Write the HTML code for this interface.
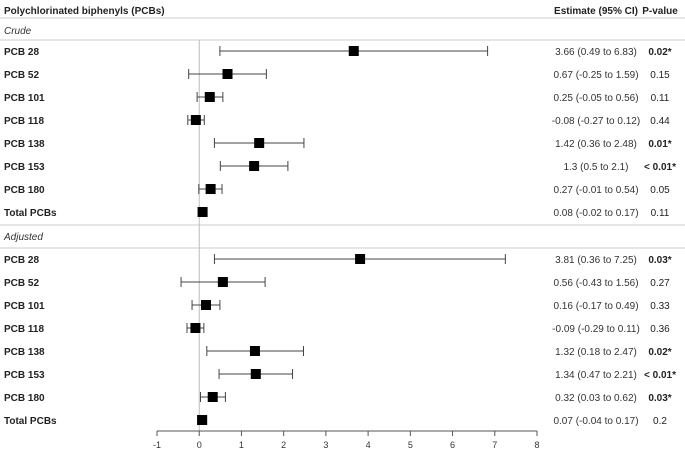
<!DOCTYPE html>
<html><head><meta charset="utf-8"><style>
html,body{margin:0;padding:0;background:#fff;}
svg{display:block;font-family:"Liberation Sans",Arial,sans-serif;}
</style></head><body>
<svg id="chart" width="685" height="450"></svg>
<script>
const labels = ["PCB 28","PCB 52","PCB 101","PCB 118","PCB 138","PCB 153","PCB 180","Total PCBs"];
const crudeEst = [3.66,0.67,0.25,-0.08,1.42,1.3,0.27,0.08];
const crudeLo = [0.49,-0.25,-0.05,-0.27,0.36,0.5,-0.01,-0.02];
const crudeHi = [6.83,1.59,0.56,0.12,2.48,2.1,0.54,0.17];
const crudeText = ["3.66 (0.49 to 6.83)","0.67 (-0.25 to 1.59)","0.25 (-0.05 to 0.56)","-0.08 (-0.27 to 0.12)","1.42 (0.36 to 2.48)","1.3 (0.5 to 2.1)","0.27 (-0.01 to 0.54)","0.08 (-0.02 to 0.17)"];
const crudeP = ["0.02*","0.15","0.11","0.44","0.01*","< 0.01*","0.05","0.11"];
const adjEst = [3.81,0.56,0.16,-0.09,1.32,1.34,0.32,0.07];
const adjLo = [0.36,-0.43,-0.17,-0.29,0.18,0.47,0.03,-0.04];
const adjHi = [7.25,1.56,0.49,0.11,2.47,2.21,0.62,0.17];
const adjText = ["3.81 (0.36 to 7.25)","0.56 (-0.43 to 1.56)","0.16 (-0.17 to 0.49)","-0.09 (-0.29 to 0.11)","1.32 (0.18 to 2.47)","1.34 (0.47 to 2.21)","0.32 (0.03 to 0.62)","0.07 (-0.04 to 0.17)"];
const adjP = ["0.03*","0.27","0.33","0.36","0.02*","< 0.01*","0.03*","0.2"];
const ticks = [-1,0,1,2,3,4,5,6,7,8];

const svg = document.getElementById('chart');
const NS = "http://www.w3.org/2000/svg";
const x = v => 157 + (v + 1) * (380 / 9);
function mk(tag, attrs, text){
  const e = document.createElementNS(NS, tag);
  for (const k in attrs) e.setAttribute(k, attrs[k]);
  if (text !== undefined) e.textContent = text;
  svg.appendChild(e);
  return e;
}
let e;
e = mk('text',{x:4,y:14,'font-size':10,'font-weight':'bold',fill:'#222'},'Polychlorinated biphenyls (PCBs)');


e = mk('text',{x:596,y:14,'font-size':10,'font-weight':'bold','text-anchor':'middle',fill:'#222'},'Estimate (95% CI)');


e = mk('text',{x:660,y:14,'font-size':10,'font-weight':'bold','text-anchor':'middle',fill:'#222'},'P-value');


[18,40,225,248].forEach(y=>{
  e = mk('line',{x1:0,x2:685,y1:y,y2:y,stroke:'#ddd','stroke-width':1.5});
  
  
});
e = mk('line',{x1:x(0),x2:x(0),y1:40,y2:431,stroke:'#bbb','stroke-width':1});



function group(title, ty, y0, est, lo, hi, txt, p, key){
  e = mk('text',{x:4,y:ty,'font-size':10,'font-style':'italic',fill:'#333'},title);
  
  
  for (let i=0;i<labels.length;i++){
    const y = y0 + i*23;
    e = mk('text',{x:4,y:y+4,'font-size':10,'font-weight':'bold',fill:'#222'},labels[i]);
    
    
    e = mk('line',{x1:x(lo[i]),x2:x(hi[i]),y1:y,y2:y,stroke:'#444','stroke-width':1});
    
    
    [lo[i],hi[i]].forEach(v=>{
      e = mk('line',{x1:x(v),x2:x(v),y1:y-5,y2:y+5,stroke:'#444','stroke-width':1});
      
      
    });
    e = mk('rect',{x:x(est[i])-5,y:y-5,width:10,height:10,fill:'#000'});
    
    
    e = mk('text',{x:596,y:y+4,'font-size':10,'text-anchor':'middle',fill:'#333'},txt[i]);
    
    
    const bold = p[i].indexOf('*')>=0;
    e = mk('text',{x:660,y:y+4,'font-size':10,'text-anchor':'middle',fill:'#222','font-weight':bold?'bold':'normal'},p[i]);
    
    
  }
}
group('Crude',34,51,crudeEst,crudeLo,crudeHi,crudeText,crudeP,'crude');
group('Adjusted',240,259,adjEst,adjLo,adjHi,adjText,adjP,'adjusted');

e = mk('line',{x1:x(-1),x2:x(8),y1:431,y2:431,stroke:'#555','stroke-width':1});


ticks.forEach(t=>{
  e = mk('line',{x1:x(t),x2:x(t),y1:431,y2:436,stroke:'#555','stroke-width':1});
  
  
  e = mk('text',{x:x(t),y:448,'font-size':9,'text-anchor':'middle',fill:'#333'},String(t));
  
  
});
</script>
</body></html>
